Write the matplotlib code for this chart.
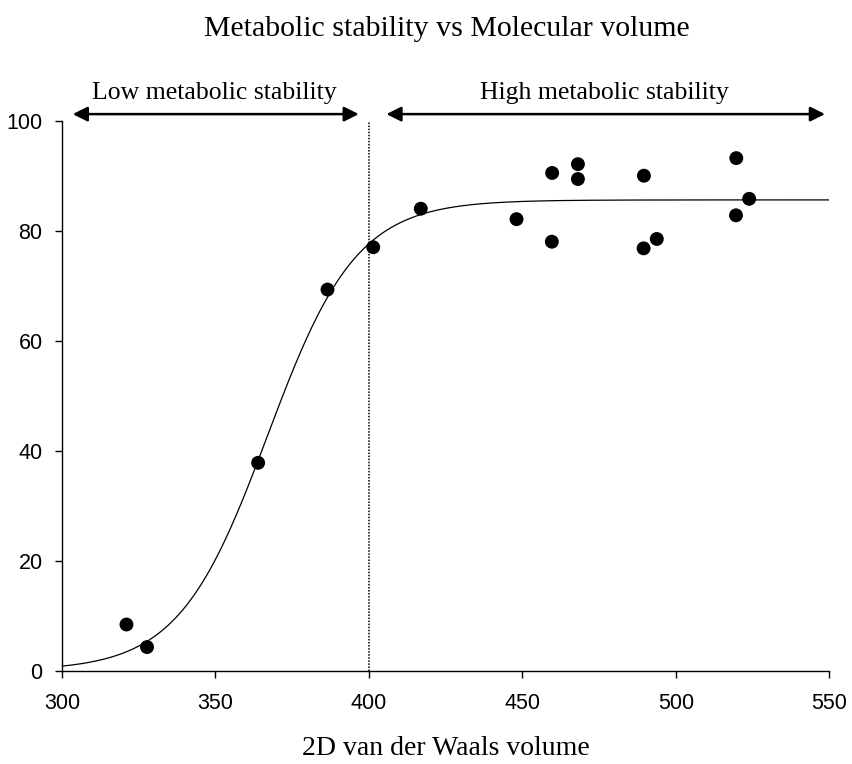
import numpy as np
import matplotlib
matplotlib.use("Agg")
from matplotlib import pyplot as plt

# data
volume = [321.0, 327.7, 363.9, 386.5, 401.4, 416.9, 448.1, 459.7, 459.6,
          468.1, 468.1, 489.6, 489.5, 493.8, 519.7, 519.6, 523.9]
stability = [8.4, 4.3, 37.8, 69.3, 77.0, 84.0, 82.1, 90.5, 78.0,
             92.1, 89.4, 90.0, 76.8, 78.5, 93.2, 82.8, 85.8]

# sigmoid fit (plateau, midpoint, width)
fit_top = 85.6
fit_mid = 367.0
fit_width = 14.5

x_ticks = [300, 350, 400, 450, 500, 550]
y_ticks = [0, 20, 40, 60, 80, 100]
cutoff = 400
low_span = [303.5, 396.7]
high_span = [405.7, 548.6]
arrow_y = 101.2

serif = ['Liberation Serif', 'DejaVu Serif']
sans = ['Liberation Sans', 'DejaVu Sans']

fig = plt.figure(figsize=(8.53, 7.64), dpi=100)
ax = fig.add_axes([0.0727, 0.1221, 0.8995, 0.7199])

# fitted curve
xs = np.linspace(x_ticks[0], x_ticks[-1], 400)
ys = fit_top / (1 + np.exp(-(xs - fit_mid) / fit_width))
ax.plot(xs, ys, color='black', lw=0.9, zorder=2)

ax.scatter(volume, stability, s=100, color='black', edgecolors='none', zorder=3)

# cutoff line
ax.plot([cutoff, cutoff], [0, 100], color='black', lw=1.1,
        linestyle=(0, (1, 1)), zorder=1)

# region arrows
for span in (low_span, high_span):
    ax.annotate('', xy=(span[1], arrow_y), xytext=(span[0], arrow_y),
                xycoords='data', annotation_clip=False,
                arrowprops=dict(arrowstyle='<|-|>', color='black', lw=1.8,
                                mutation_scale=22, shrinkA=0, shrinkB=0))

ax.text(np.mean(low_span) - 0.5, 105.0, 'Low metabolic stability',
        ha='center', va='center', fontsize=18.5, family=serif)
ax.text(np.mean(high_span) - 0.5, 105.0, 'High metabolic stability',
        ha='center', va='center', fontsize=18.5, family=serif)

fig.text(0.524, 0.962, 'Metabolic stability vs Molecular volume',
         ha='center', va='center', fontsize=21.5, family=serif)

ax.set_xlim(x_ticks[0], x_ticks[-1])
ax.set_ylim(y_ticks[0], y_ticks[-1])
ax.set_xticks(x_ticks)
ax.set_yticks(y_ticks)
for lab in ax.get_xticklabels() + ax.get_yticklabels():
    lab.set_family(sans)
    lab.set_fontsize(15.5)
ax.tick_params(direction='out', length=5, width=1)
ax.tick_params(axis='x', pad=11)
ax.tick_params(axis='y', pad=9)

ax.spines['top'].set_visible(False)
ax.spines['right'].set_visible(False)
ax.spines['left'].set_linewidth(1)
ax.spines['bottom'].set_linewidth(1)

ax.set_xlabel('2D van der Waals volume', fontsize=20, family=serif, labelpad=16)

fig.savefig('out.png', dpi=100)
